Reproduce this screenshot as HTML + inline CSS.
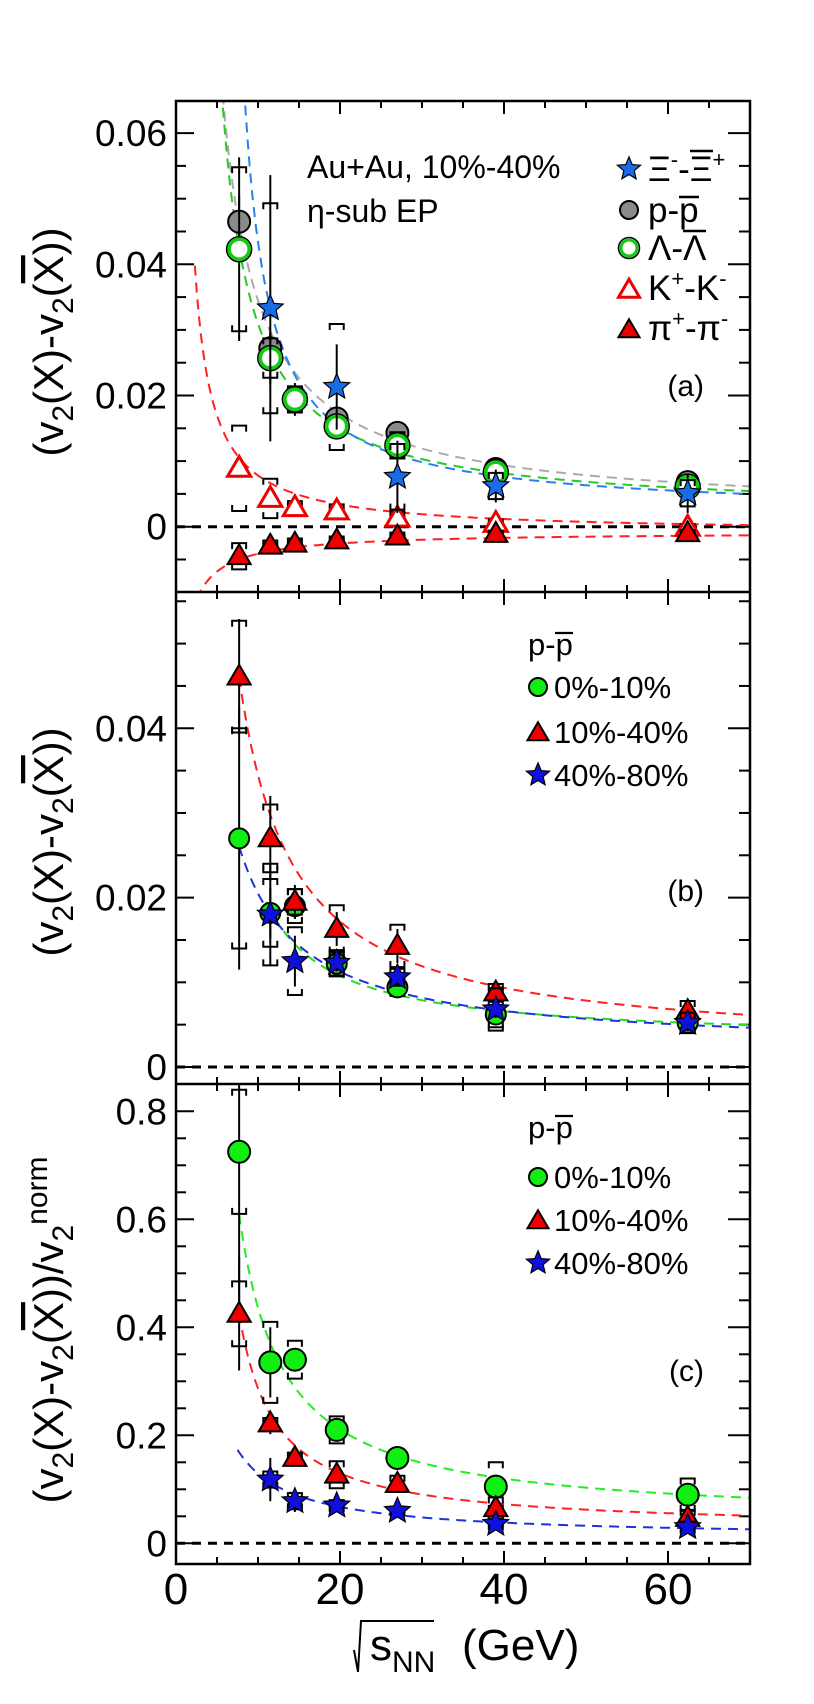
<!DOCTYPE html>
<html>
<head>
<meta charset="utf-8">
<style>
html,body{margin:0;padding:0;background:#fff;}
svg{display:block;font-family:"Liberation Sans",Arial,sans-serif;}
</style>
</head>
<body>
<svg id="chart" width="814" height="1704" viewBox="0 0 814 1704" xmlns="http://www.w3.org/2000/svg">
  <defs>
    <clipPath id="clipA"><rect x="176" y="101" width="574" height="491"/></clipPath>
    <clipPath id="clipB"><rect x="176" y="592" width="574" height="492"/></clipPath>
    <clipPath id="clipC"><rect x="176" y="1084" width="574" height="480"/></clipPath>
  </defs>
  <g id="axes"></g>
  <g id="curves"></g>
  <g id="marks"></g>

  <rect x="176" y="101" width="574" height="1463" fill="none" stroke="#000" stroke-width="2.5"/>
  <line x1="176" y1="592" x2="750" y2="592" stroke="#000" stroke-width="2.5"/>
  <line x1="176" y1="1084" x2="750" y2="1084" stroke="#000" stroke-width="2.5"/>

  <text transform="translate(63,342) rotate(-90)" text-anchor="middle" font-size="42">(v<tspan font-size="30" dy="10">2</tspan><tspan dy="-10">(X)-v</tspan><tspan font-size="30" dy="10">2</tspan><tspan dy="-10">(</tspan><tspan text-decoration="overline">X</tspan>))</text>
  <text transform="translate(63,842) rotate(-90)" text-anchor="middle" font-size="42">(v<tspan font-size="30" dy="10">2</tspan><tspan dy="-10">(X)-v</tspan><tspan font-size="30" dy="10">2</tspan><tspan dy="-10">(</tspan><tspan text-decoration="overline">X</tspan>))</text>
  <text transform="translate(63,1330) rotate(-90)" text-anchor="middle" font-size="42">(v<tspan font-size="30" dy="10">2</tspan><tspan dy="-10">(X)-v</tspan><tspan font-size="30" dy="10">2</tspan><tspan dy="-10">(</tspan><tspan text-decoration="overline">X</tspan>))/v<tspan font-size="30" dy="10">2</tspan><tspan font-size="30" dy="-26">norm</tspan></text>

  <g>
    <polyline points="354,1650 358,1672 361,1621 434,1621" fill="none" stroke="#000" stroke-width="2"/>
    <text x="370" y="1660" font-size="44">s<tspan font-size="30" dy="12">NN</tspan><tspan dy="-12" x="462">(GeV)</tspan></text>
  </g>

  <text x="307" y="178" font-size="32">Au+Au, 10%-40%</text>
  <text x="307" y="222" font-size="32">η-sub EP</text>
  <text x="704" y="396" font-size="30" text-anchor="end">(a)</text>
  <text x="704" y="901" font-size="30" text-anchor="end">(b)</text>
  <text x="704" y="1381" font-size="30" text-anchor="end">(c)</text>

  <g id="legendA">
    <text x="648" y="181" font-size="35">Ξ<tspan font-size="22" dy="-14">-</tspan><tspan dy="14">-Ξ</tspan><tspan font-size="22" dy="-14">+</tspan></text>
    <line x1="690" y1="151" x2="713" y2="151" stroke="#000" stroke-width="2.5"/>
    <text x="648" y="222" font-size="35">p-p</text>
    <line x1="679" y1="197" x2="699" y2="197" stroke="#000" stroke-width="2.5"/>
    <text x="648" y="260" font-size="35">Λ-Λ</text>
    <line x1="683" y1="231" x2="706" y2="231" stroke="#000" stroke-width="2.5"/>
    <text x="648" y="300" font-size="35">K<tspan font-size="22" dy="-14">+</tspan><tspan dy="14">-K</tspan><tspan font-size="22" dy="-14">-</tspan></text>
    <text x="648" y="340" font-size="35">π<tspan font-size="22" dy="-14">+</tspan><tspan dy="14">-π</tspan><tspan font-size="22" dy="-14">-</tspan></text>
  </g>
  <g>
    <text x="528" y="655" font-size="31">p-p</text>
    <line x1="555" y1="633" x2="573" y2="633" stroke="#000" stroke-width="2.2"/>
    <text x="554" y="698" font-size="31">0%-10%</text>
    <text x="554" y="743" font-size="31">10%-40%</text>
    <text x="554" y="786" font-size="31">40%-80%</text>
  </g>
  <g>
    <text x="528" y="1138" font-size="31">p-p</text>
    <line x1="555" y1="1116" x2="573" y2="1116" stroke="#000" stroke-width="2.2"/>
    <text x="554" y="1188" font-size="31">0%-10%</text>
    <text x="554" y="1231" font-size="31">10%-40%</text>
    <text x="554" y="1274" font-size="31">40%-80%</text>
  </g>
  <g id="legendMarks"></g>
</svg>

<script>
const energies = [7.7, 11.5, 14.5, 19.6, 27, 39, 62.4];
const xTicks = [0, 20, 40, 60];

const aProton   = [0.0465, 0.0272, 0.0195, 0.0165, 0.0143, 0.0088, 0.0068];
const aProtonStat = [0.004, 0.002, 0.0015, 0.0012, 0.001, 0.0006, 0.0005];
const aLambda   = [0.0423, 0.0257, 0.0194, 0.0153, 0.0124, 0.0083, 0.0061];
const aLambdaStat = [0.014, 0.004, 0.0025, 0.0015, 0.0015, 0.001, 0.001];
const aLambdaSys  = [0.0125, 0.003, 0.002, 0.0015, 0.002, 0.001, 0.001];
const aXi       = [null, 0.0333, null, 0.0213, 0.0076, 0.0062, 0.0051];
const aXiStat   = [null, 0.0203, null, 0.0065, 0.0055, 0.0025, 0.003];
const aXiSys    = [null, 0.016, null, 0.0096, 0.005, 0.002, 0.002];
const aKaon     = [0.0089, 0.0043, 0.0029, 0.0024, 0.0013, 0.0005, -0.0001];
const aKaonSys  = [0.0065, 0.003, 0.001, 0.001, 0.001, 0.0006, 0.0005];
const aPion     = [-0.0045, -0.0029, -0.0026, -0.0021, -0.0015, -0.0011, -0.001];
const aPionSys  = [0.002, 0.0008, 0.0008, 0.0006, 0.0006, 0.0005, 0.0005];
const aYTicks = [0, 0.02, 0.04, 0.06];
const aYLabels = ["0", "0.02", "0.04", "0.06"];

const bCentral    = [0.027, 0.0182, 0.019, 0.0122, 0.0094, 0.0062, 0.0052];
const bCentralStat= [0.0155, 0.003, 0.0015, 0.001, 0.001, 0.0008, 0.0008];
const bCentralSys = [0.013, 0.004, 0.002, 0.0015, 0.001, 0.0015, 0.001];
const bMid        = [0.0461, 0.027, 0.0195, 0.0163, 0.0143, 0.0088, 0.0066];
const bMidStat    = [0.0068, 0.005, 0.002, 0.002, 0.002, 0.001, 0.001];
const bMidSys     = [0.0066, 0.004, 0.0015, 0.0028, 0.0025, 0.001, 0.0012];
const bPeriph     = [null, 0.018, 0.0125, 0.0123, 0.0106, 0.0068, 0.0052];
const bPeriphStat = [null, 0.006, 0.003, 0.001, 0.001, 0.001, 0.001];
const bPeriphSys  = [null, 0.006, 0.004, 0.0015, 0.001, 0.0025, 0.0012];
const bYTicks = [0, 0.02, 0.04];
const bYLabels = ["0", "0.02", "0.04"];

const cCentral    = [0.725, 0.335, 0.34, 0.21, 0.158, 0.105, 0.09];
const cCentralStat= [0.3, 0.065, 0.02, 0.01, 0.01, 0.01, 0.01];
const cCentralSys = [0.115, 0.075, 0.035, 0.025, 0.015, 0.045, 0.03];
const cMid        = [0.425, 0.222, 0.158, 0.127, 0.11, 0.065, 0.047];
const cMidStat    = [0.105, 0.02, 0.01, 0.01, 0.01, 0.008, 0.008];
const cMidSys     = [0.06, 0.01, 0.01, 0.025, 0.015, 0.02, 0.015];
const cPeriph     = [null, 0.118, 0.078, 0.07, 0.06, 0.036, 0.03];
const cPeriphStat = [null, 0.04, 0.02, 0.008, 0.008, 0.008, 0.008];
const cPeriphSys  = [null, 0.015, 0.015, 0.01, 0.008, 0.01, 0.01];
const cYTicks = [0, 0.2, 0.4, 0.6, 0.8];
const cYLabels = ["0", "0.2", "0.4", "0.6", "0.8"];

const fitAProton = [0.285, 1.23, 0.002, 4.5];
const fitALambda = [0.233, 1.95, 0.002, 4.0];
const fitAXi     = [0.193, 5.34, 0.002, 8.0];
const fitAKaon   = [0.0865, 0.18, -0.001, 2.3];
const fitAPion   = [-0.037, -1.13, -0.0008, 2.5];
const fitBMid    = [0.285, 1.23, 0.002, 7.7];
const fitBCentral= [0.132, 3.0, 0.003, 11.0];
const fitBPeriph = [0.185, 0.0, 0.002, 7.7];
const fitCCentral= [3.0, 2.43, 0.04, 7.7];
const fitCMid    = [1.74, 3.36, 0.025, 7.7];
const fitCPeriph = [1.11, 0.7, 0.01, 7.5];

const X0 = 176, X1 = 750, XMAX = 70;
function xs(v){ return X0 + v * (X1 - X0) / XMAX; }
function ya(v){ return 526.7 - v * 6560; }
function yb(v){ return 1067 - v * 8468; }
function yc(v){ return 1543.3 - v * 540; }

const NS = "http://www.w3.org/2000/svg";
const axes = document.getElementById('axes');
const curves = document.getElementById('curves');
const marks = document.getElementById('marks');

function mk(tag, parent){
  const e = document.createElementNS(NS, tag);
  parent.appendChild(e);
  return e;
}
function line(parent, x1, y1, x2, y2, w){
  const l = mk('line', parent);
  l.setAttribute('x1', x1); l.setAttribute('y1', y1);
  l.setAttribute('x2', x2); l.setAttribute('y2', y2);
  l.setAttribute('stroke', '#000'); l.setAttribute('stroke-width', w || 2);
  return l;
}

function panelAxes(name, yfn, top, bottom, minorStep, lo, hi, majors, labels){
  const g = mk('g', axes);
  
  
  const n = Math.round((hi - lo) / minorStep);
  for (let i = 0; i <= n; i++){
    const v = lo + i * minorStep;
    const y = yfn(v);
    if (y < top + 1 || y > bottom - 1) continue;
    const isMajor = majors.some(m => Math.abs(m - v) < minorStep / 10);
    const tl = line(g, X0, y, X0 + (isMajor ? 18 : 10), y, 2);
    
    
    const tr = line(g, X1, y, X1 - (isMajor ? 22 : 11), y, 2);
    
    
  }
  majors.forEach((m, i) => {
    const t = mk('text', g);
    t.setAttribute('x', 167); t.setAttribute('y', yfn(m) + 13);
    t.setAttribute('font-size', '37'); t.setAttribute('text-anchor', 'end');
    t.textContent = labels[i];
    
    
  });
  for (let v = 5; v < XMAX; v += 5){
    const x = xs(v);
    const len = (v % 20 === 0) ? 13 : 7;
    const a = line(g, x, top, x, top + len, 2);
    
    
    const b = line(g, x, bottom, x, bottom - len, 2);
    
    
  }
  const z = line(g, X0, yfn(0), X1, yfn(0), 3);
  z.setAttribute('stroke-dasharray', '9,7');
  
  
}
panelAxes('panel-a', ya, 101, 592, 0.005, -0.01, 0.065, aYTicks, aYLabels);
panelAxes('panel-b', yb, 592, 1084, 0.005, 0, 0.055, bYTicks, bYLabels);
panelAxes('panel-c', yc, 1084, 1564, 0.05, 0, 0.85, cYTicks, cYLabels);

xTicks.forEach(v => {
  const t = mk('text', axes);
  t.setAttribute('x', xs(v)); t.setAttribute('y', 1604);
  t.setAttribute('font-size', '44'); t.setAttribute('text-anchor', 'middle');
  t.textContent = String(v);
  
  
});

function curve(p, yfn, color, clip, name){
  const pts = [];
  for (let x = p[3]; x <= XMAX; x += 0.25){
    const v = p[0] / (x - p[1]) + p[2];
    pts.push(xs(x).toFixed(1) + ',' + yfn(v).toFixed(1));
  }
  const pl = mk('polyline', curves);
  pl.setAttribute('points', pts.join(' '));
  pl.setAttribute('fill', 'none');
  pl.setAttribute('stroke', color);
  pl.setAttribute('stroke-width', '2');
  pl.setAttribute('stroke-dasharray', '10,7');
  pl.setAttribute('clip-path', 'url(#' + clip + ')');
  
  
}
curve(fitAProton, ya, '#aaaaaa', 'clipA', 'fit-a-proton');
curve(fitALambda, ya, '#22cc22', 'clipA', 'fit-a-lambda');
curve(fitAXi, ya, '#2a7ff0', 'clipA', 'fit-a-xi');
curve(fitAKaon, ya, '#ff2020', 'clipA', 'fit-a-kaon');
curve(fitAPion, ya, '#ff2020', 'clipA', 'fit-a-pion');
curve(fitBMid, yb, '#ff2020', 'clipB', 'fit-b-10-40');
curve(fitBCentral, yb, '#22dd22', 'clipB', 'fit-b-0-10');
curve(fitBPeriph, yb, '#2030e0', 'clipB', 'fit-b-40-80');
curve(fitCCentral, yc, '#22ee22', 'clipC', 'fit-c-0-10');
curve(fitCMid, yc, '#ff2020', 'clipC', 'fit-c-10-40');
curve(fitCPeriph, yc, '#2030e0', 'clipC', 'fit-c-40-80');

function starPath(cx, cy, R){
  let d = '';
  for (let i = 0; i < 10; i++){
    const r = (i % 2 === 0) ? R : R * 0.45;
    const ang = -Math.PI / 2 + i * Math.PI / 5;
    d += (i === 0 ? 'M' : 'L') + (cx + r * Math.cos(ang)).toFixed(1) + ',' + (cy + r * Math.sin(ang)).toFixed(1);
  }
  return d + 'Z';
}
function drawMarker(parent, kind, cx, cy, fill, stroke, sw, size){
  let e;
  if (kind === 'circle'){
    e = mk('circle', parent);
    e.setAttribute('cx', cx); e.setAttribute('cy', cy); e.setAttribute('r', size);
  } else if (kind === 'triangle'){
    e = mk('polygon', parent);
    const h = size * 1.8, w = size * 1.05;
    e.setAttribute('points', cx + ',' + (cy - h * 0.6) + ' ' + (cx + w) + ',' + (cy + h * 0.4) + ' ' + (cx - w) + ',' + (cy + h * 0.4));
  } else {
    e = mk('path', parent);
    e.setAttribute('d', starPath(cx, cy, size * 1.35));
  }
  e.setAttribute('fill', fill); e.setAttribute('stroke', stroke); e.setAttribute('stroke-width', sw);
  return e;
}
function errBar(parent, x, yTop, yBot){
  const l = line(parent, x, yTop, x, yBot, 2);
  
  
}
function sysBracket(parent, x, y, up){
  const p = mk('polyline', parent);
  const d = up ? 6 : -6;
  p.setAttribute('points', (x - 7) + ',' + (y + d) + ' ' + (x - 7) + ',' + y + ' ' + (x + 7) + ',' + y + ' ' + (x + 7) + ',' + (y + d));
  p.setAttribute('fill', 'none'); p.setAttribute('stroke', '#000'); p.setAttribute('stroke-width', '2');
  
  
}
function series(name, vals, stat, sys, yfn, clip, kind, fill, stroke, sw, size, ring){
  const g = mk('g', marks);
  
  
  g.setAttribute('clip-path', 'url(#' + clip + ')');
  vals.forEach((v, i) => {
    if (v === null) return;
    const x = xs(energies[i]), y = yfn(v);
    if (stat && stat[i] !== null) errBar(g, x, yfn(v + stat[i]), yfn(v - stat[i]));
    if (sys && sys[i] !== null){
      sysBracket(g, x, yfn(v + sys[i]), true);
      sysBracket(g, x, yfn(v - sys[i]), false);
    }
    if (ring){
      const o = drawMarker(g, 'circle', x, y, '#fff', '#000', 1.5, size + 1.5);
      
      
    }
    const m = drawMarker(g, kind, x, y, fill, stroke, sw, ring ? size - 1 : size);
    
    
  });
}
series('a-proton', aProton, aProtonStat, null, ya, 'clipA', 'circle', '#8a8a8a', '#000', 2, 11, false);
series('a-lambda', aLambda, aLambdaStat, aLambdaSys, ya, 'clipA', 'circle', '#fff', '#11cc11', 3.5, 11, true);
series('a-kaon', aKaon, null, aKaonSys, ya, 'clipA', 'triangle', '#fff', '#ee0000', 3, 11, false);
series('a-pion', aPion, null, aPionSys, ya, 'clipA', 'triangle', '#ee0000', '#000', 2, 11, false);
series('a-xi', aXi, aXiStat, aXiSys, ya, 'clipA', 'star', '#1a6be6', '#000', 1.2, 10, false);
series('b-0-10', bCentral, bCentralStat, bCentralSys, yb, 'clipB', 'circle', '#11ee11', '#000', 2, 10, false);
series('b-10-40', bMid, bMidStat, bMidSys, yb, 'clipB', 'triangle', '#ee0000', '#000', 2, 11, false);
series('b-40-80', bPeriph, bPeriphStat, bPeriphSys, yb, 'clipB', 'star', '#1010dd', '#000', 1.2, 10, false);
series('c-0-10', cCentral, cCentralStat, cCentralSys, yc, 'clipC', 'circle', '#11ee11', '#000', 2, 11, false);
series('c-10-40', cMid, cMidStat, cMidSys, yc, 'clipC', 'triangle', '#ee0000', '#000', 2, 11, false);
series('c-40-80', cPeriph, cPeriphStat, cPeriphSys, yc, 'clipC', 'star', '#1010dd', '#000', 1.2, 10, false);

const lg = document.getElementById('legendMarks');
function lm(name, kind, x, y, fill, stroke, sw, size, ring){
  if (ring){
    const o = drawMarker(lg, 'circle', x, y, '#fff', '#000', 1.5, size + 1.5);
    
    
  }
  const m = drawMarker(lg, kind, x, y, fill, stroke, sw, ring ? size - 1 : size);
  
  
}
lm('legend-marker-xi', 'star', 629, 169, '#1a6be6', '#000', 1.2, 9, false);
lm('legend-marker-proton', 'circle', 629, 210, '#8a8a8a', '#000', 2, 9, false);
lm('legend-marker-lambda', 'circle', 629, 248, '#fff', '#11cc11', 3, 9, true);
lm('legend-marker-kaon', 'triangle', 629, 290, '#fff', '#ee0000', 3, 10, false);
lm('legend-marker-pion', 'triangle', 629, 330, '#ee0000', '#000', 2, 10, false);
lm('legend-marker-b-central', 'circle', 538, 687, '#11ee11', '#000', 2, 9, false);
lm('legend-marker-b-midcentral', 'triangle', 538, 733, '#ee0000', '#000', 2, 10, false);
lm('legend-marker-b-peripheral', 'star', 538, 775, '#1010dd', '#000', 1.2, 9, false);
lm('legend-marker-c-central', 'circle', 538, 1177, '#11ee11', '#000', 2, 9, false);
lm('legend-marker-c-midcentral', 'triangle', 538, 1221, '#ee0000', '#000', 2, 10, false);
lm('legend-marker-c-peripheral', 'star', 538, 1263, '#1010dd', '#000', 1.2, 9, false);
</script>
</body>
</html>
